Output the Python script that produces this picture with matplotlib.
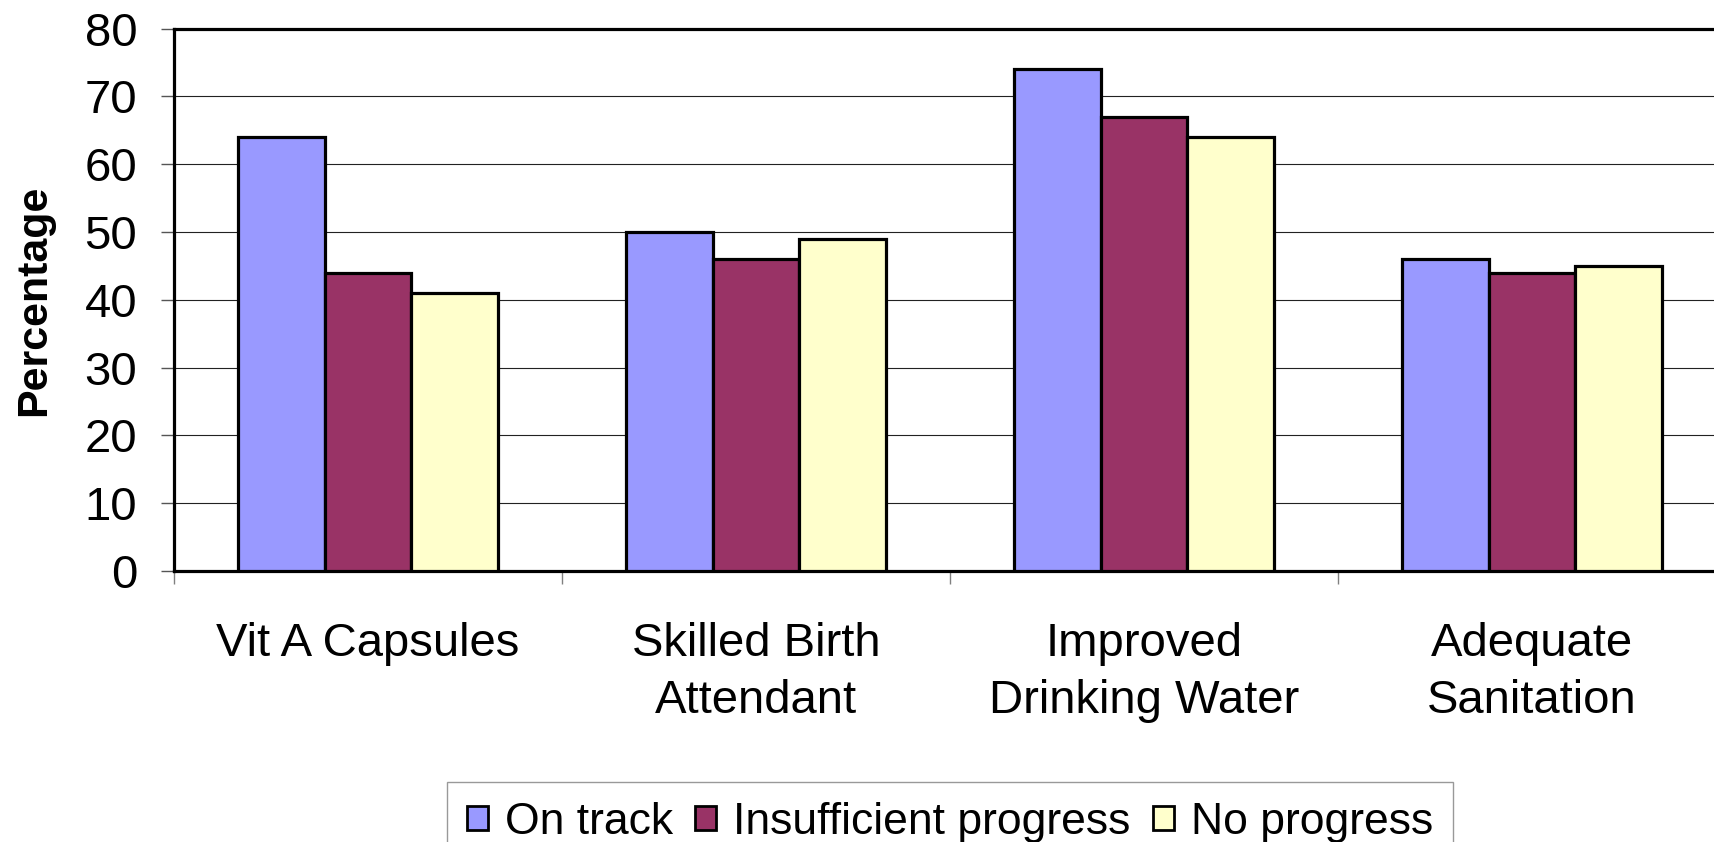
import matplotlib
matplotlib.use("Agg")
import matplotlib.pyplot as plt
import numpy as np

plt.rcParams['font.family'] = ['Liberation Sans', 'DejaVu Sans']

categories = ["Vit A Capsules", "Skilled Birth\nAttendant", "Improved\nDrinking Water", "Adequate\nSanitation"]
series_names = ["On track", "Insufficient progress", "No progress"]
on_track = [64, 50, 74, 46]
insufficient = [44, 46, 67, 44]
no_progress = [41, 49, 64, 45]
yticks = [0, 10, 20, 30, 40, 50, 60, 70, 80]

colors = ["#9999FF", "#993366", "#FFFFCC"]

W, H = 1715, 842
fig = plt.figure(figsize=(W / 100, H / 100), dpi=100)
left, right, bottom, top = 174, 1726, 571, 28.7
ax = fig.add_axes([left / W, 1 - bottom / H, (right - left) / W, (bottom - top) / H])

x = np.arange(len(categories))
bw = 0.223
for j, (vals, name) in enumerate(zip([on_track, insufficient, no_progress], series_names)):
    ax.bar(x + (j - 1) * bw, vals, width=bw, color=colors[j], edgecolor="black",
           linewidth=2.3, label=name, zorder=3)

ax.set_xlim(-0.5, 3.5)
ax.set_ylim(0, 80)
ax.set_yticks(yticks)
ax.set_yticklabels([str(v) for v in yticks], fontsize=34)
ax.yaxis.grid(True, color="#222222", linewidth=0.8, zorder=0)
ax.set_axisbelow(True)
ax.tick_params(axis="y", direction="out", length=9.4, width=1, color="#555555", pad=17)

ax.set_xticks(x)
ax.set_xticklabels(categories, fontsize=34, linespacing=1.37, va="top")
ax.tick_params(axis="x", which="major", length=0, pad=37)
ax.set_xticks(np.arange(-0.5, 4.0, 1.0), minor=True)
ax.tick_params(axis="x", which="minor", direction="out", length=9.4, width=1, color="#808080")

for s in ["left", "top", "bottom"]:
    ax.spines[s].set_linewidth(2.3)
    ax.spines[s].set_color("black")
ax.spines["right"].set_visible(False)

ax.set_ylabel("Percentage", fontsize=31, fontweight="bold")
ax.yaxis.set_label_coords((54 - left) / (right - left), 0.5)

cx = ((left + right) / 2) / W
leg = fig.legend(loc="upper center", bbox_to_anchor=(cx, 1 - 782 / H), bbox_transform=fig.transFigure,
                 ncol=3, fontsize=32, frameon=True, fancybox=False, borderpad=0.45,
                 handlelength=0.47, handleheight=0.47, handletextpad=0.38, columnspacing=0.5,
                 borderaxespad=0)
leg.get_frame().set_edgecolor("#808080")
leg.get_frame().set_linewidth(1.0)
for p in leg.get_patches():
    p.set_linewidth(2.0)

fig.savefig("out.png", dpi=100)
